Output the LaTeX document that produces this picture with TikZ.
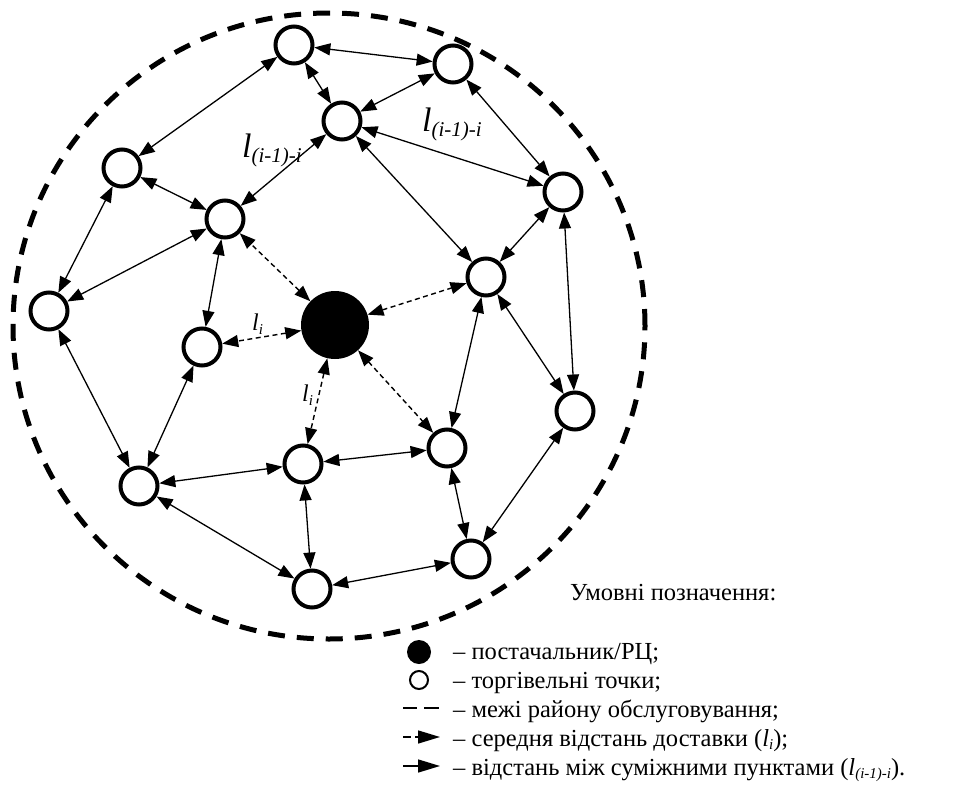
\documentclass[tikz,border=0pt]{standalone}
\usepackage{fontspec}
\setmainfont{Liberation Serif}
\usetikzlibrary{arrows.meta}
\tikzset{
  shop/.style={circle, draw, line width=4pt, minimum size=37pt, inner sep=0pt, fill=white},
  hub/.style={circle, fill=black, minimum size=68pt, inner sep=0pt},
  link/.style={line width=1.3pt, {Triangle[length=16pt,width=12pt]}-{Triangle[length=16pt,width=12pt]}},
  dlink/.style={line width=1.4pt, dash pattern=on 5pt off 3.5pt, {Triangle[length=16pt,width=12pt]}-{Triangle[length=16pt,width=12pt]}},
  boundary/.style={line width=5pt, dash pattern=on 17pt off 12pt},
  lbl/.style={inner sep=0pt, anchor=base west},
  legtext/.style={inner sep=0pt, anchor=base west, font=\fontsize{24.5}{28}\selectfont}
}
\newcommand{\lbig}{{\fontsize{34}{34}\selectfont\itshape l}\raisebox{-5pt}{\fontsize{21}{21}\selectfont\itshape (i-1)-i}}
\newcommand{\lsmall}{{\fontsize{24}{24}\selectfont\itshape l}\raisebox{-4pt}{\fontsize{15}{15}\selectfont\itshape i}}
\begin{document}
\begin{tikzpicture}[x=1pt, y=-1pt]
\useasboundingbox (0,0) rectangle (956,787);
\draw[boundary] (329,326) ellipse [x radius=316pt, y radius=313pt];

\node[shop] (A) at (294,45) {};
\node[shop] (B) at (453,64) {};
\node[shop] (C) at (342,121) {};
\node[shop] (D) at (122,168) {};
\node[shop] (E) at (225,219) {};
\node[shop] (F) at (563,192) {};
\node[shop] (G) at (49,311) {};
\node[shop] (H) at (486,277) {};
\node[hub]  (S) at (335,325) {};
\node[shop] (I) at (202,347) {};
\node[shop] (J) at (575,411) {};
\node[shop] (K) at (303,464) {};
\node[shop] (L) at (447,448) {};
\node[shop] (M) at (139,486) {};
\node[shop] (N) at (471,559) {};
\node[shop] (O) at (312,589) {};

\foreach \a/\b in {A/B, A/C, A/D, B/C, B/F, C/F, C/E, C/H, D/E, D/G, E/G, E/I,
                   F/H, F/J, H/L, H/J, G/M, I/M, M/K, M/O, K/L, K/O, L/N, J/N, N/O}
  \draw[link] (\a) -- (\b);
\foreach \b in {E, H, I, K, L}
  \draw[dlink] (S) -- (\b);

\node[lbl] (t1) at (242,157) {\lbig};
\node[lbl] (t2) at (422,131) {\lbig};
\node[lbl] (t3) at (252,330) {\lsmall};
\node[lbl] (t4) at (302,401) {\lsmall};

% legend
\node[legtext] (lt) at (570,600) {Умовні позначення:};
\node[circle, fill=black, minimum size=24pt, inner sep=0pt] (ls1) at (419,652) {};
\node[circle, draw, line width=2pt, minimum size=18pt, inner sep=0pt] (ls2) at (419,680) {};
\node[legtext] (l1) at (453,659) {– постачальник/РЦ;};
\node[legtext] (l2) at (453,688) {– торгівельні точки;};
\node[legtext] (l3) at (453,717) {– межі району обслуговування;};
\node[legtext] (l4) at (453,746) {– середня відстань доставки ({\itshape l}\raisebox{-3pt}{\fontsize{15}{15}\selectfont\itshape i});};
\node[legtext] (l5) at (453,775) {– відстань між суміжними пунктами ({\itshape l}\raisebox{-3pt}{\fontsize{15}{15}\selectfont\itshape (i-1)-i}).};
\coordinate (d1a) at (403,708); \coordinate (d1b) at (417,708);
\coordinate (d2a) at (424,708); \coordinate (d2b) at (439,708);
\draw[line width=2.5pt] (d1a) -- (d1b);
\draw[line width=2.5pt] (d2a) -- (d2b);
\coordinate (e1a) at (403,737); \coordinate (e1b) at (411,737);
\coordinate (e2a) at (415,737); \coordinate (e2b) at (440,737);
\draw[line width=1.5pt] (e1a) -- (e1b);
\draw[line width=1.5pt, -{Triangle[length=22pt,width=13pt]}] (e2a) -- (e2b);
\coordinate (f1a) at (403,766); \coordinate (f1b) at (440,766);
\draw[line width=1.5pt, -{Triangle[length=22pt,width=13pt]}] (f1a) -- (f1b);
\end{tikzpicture}
\end{document}
